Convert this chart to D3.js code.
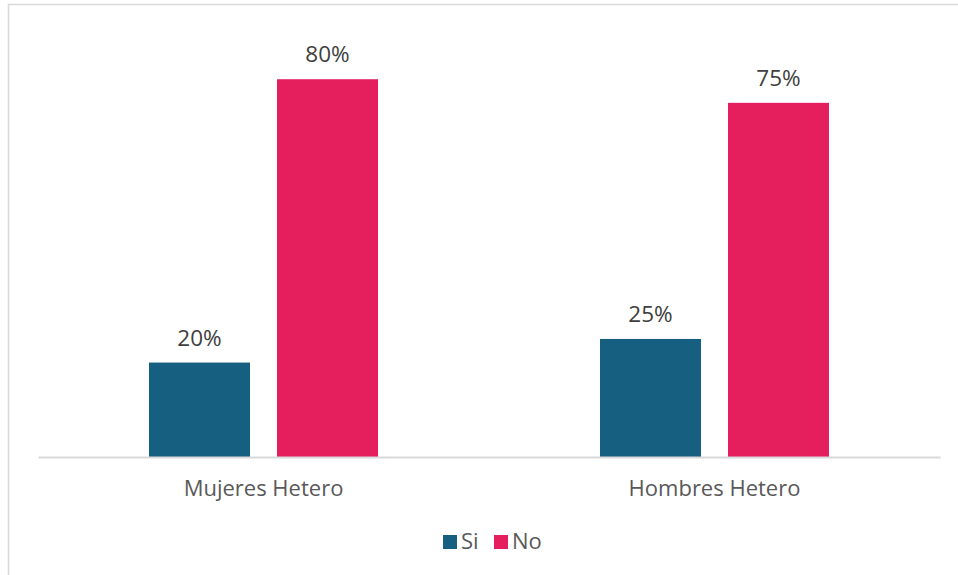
<!DOCTYPE html>
<html><head><meta charset="utf-8">
<script src="https://cdn.jsdelivr.net/npm/d3@7"></script>
<style>html,body{margin:0;padding:0;background:#fff;overflow:hidden}</style>
</head><body>
<svg id="chart" width="958" height="575"></svg>
<script>
const categories = ["Mujeres Hetero", "Hombres Hetero"];
const seriesNames = ["Si", "No"];
const siValues = [0.20, 0.25];
const noValues = [0.80, 0.75];
const colors = ["#175F80", "#E51E5E"];

const svg = d3.select("#chart");
const font = "'Open Sans', 'Noto Sans', sans-serif";

// chart area border (extends off-canvas right and bottom)
svg.append("rect").attr("x", 8.5).attr("y", 4.5).attr("width", 1000).attr("height", 1000)
  .attr("fill", "#fff").attr("stroke", "#D9D9D9").attr("stroke-width", 1.5);

const plot = {left: 38, right: 940, top: 32, bottom: 457};
const x0 = d3.scaleBand().domain(categories).range([plot.left, plot.right]).padding(0);
const x1 = d3.scaleBand().domain(seriesNames).range([0, x0.bandwidth()])
  .paddingInner(0.211).paddingOuter(0.867);
const y = d3.scaleLinear().domain([0, 0.9]).range([plot.bottom, plot.top]);

const rows = categories.map((c, i) => ({cat: c, vals: [siValues[i], noValues[i]]}));

const g = svg.append("g");
const groups = g.selectAll("g.cat").data(rows).join("g")
  .attr("transform", d => `translate(${x0(d.cat)},0)`);

groups.selectAll("rect").data(d => d.vals.map((v, j) => ({s: seriesNames[j], v, j})))
  .join("rect")
  .attr("x", d => x1(d.s)).attr("width", x1.bandwidth())
  .attr("y", d => y(d.v)).attr("height", d => y(0) - y(d.v))
  .attr("fill", d => colors[d.j]);

groups.selectAll("text.val").data(d => d.vals.map((v, j) => ({s: seriesNames[j], v, j})))
  .join("text").attr("class", "val")
  .attr("x", d => x1(d.s) + x1.bandwidth() / 2)
  .attr("y", d => y(d.v) - 17)
  .attr("text-anchor", "middle")
  .attr("font-family", font).attr("font-size", 22.5).attr("fill", "#404040")
  .text(d => d3.format(".0%")(d.v));

// baseline axis
const xAxis = d3.axisBottom(x0).tickSize(0).tickPadding(23);
const ax = svg.append("g").attr("transform", `translate(0,${plot.bottom})`).call(xAxis);
ax.select(".domain").attr("stroke", "#D9D9D9").attr("stroke-width", 2);
ax.selectAll("text").attr("font-family", font).attr("font-size", 22).attr("fill", "#595959");

// legend
const legend = svg.append("g");
const legendItems = [{name: seriesNames[0], x: 443, tx: 461}, {name: seriesNames[1], x: 494, tx: 512}];
legendItems.forEach((it, i) => {
  legend.append("rect").attr("x", it.x).attr("y", 535).attr("width", 14).attr("height", 14).attr("fill", colors[i]);
  legend.append("text").attr("x", it.tx).attr("y", 549)
    .attr("font-family", font).attr("font-size", 22).attr("fill", "#595959").text(it.name);
});
</script>
</body></html>
